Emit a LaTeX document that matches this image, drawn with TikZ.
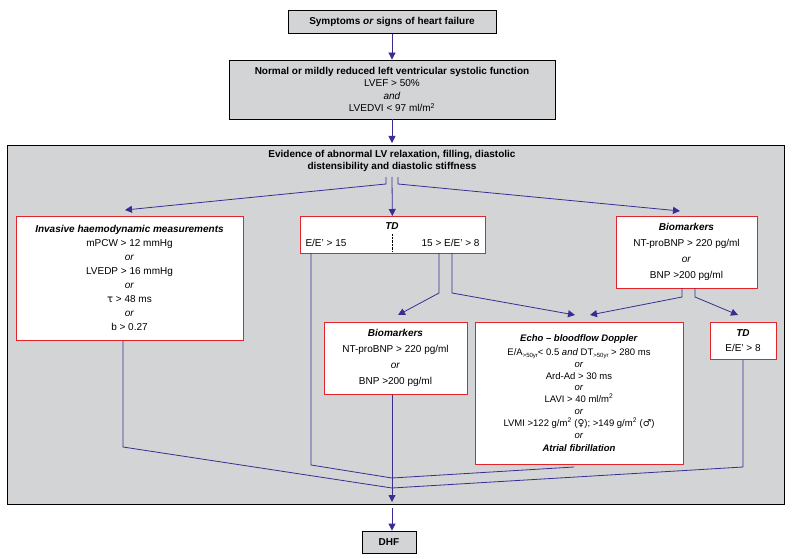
\documentclass[tikz,border=0pt]{standalone}
\usepackage{fontspec}
\setmainfont{Liberation Sans}
\newfontfamily\symfont{DejaVu Sans}
\usetikzlibrary{arrows.meta, positioning}
\definecolor{flowblue}{HTML}{3B2C93}
\definecolor{boxred}{HTML}{E3242B}
\definecolor{panelgray}{HTML}{D3D4D6}
\tikzset{
  gbox/.style={draw=black, fill=panelgray, thick, inner sep=2pt, align=center},
  rbox/.style={draw=boxred, fill=white, thick, inner sep=2pt, align=center, anchor=north},
  flow/.style={draw=flowblue, thick, -{Triangle[length=7pt, width=7pt]}},
  link/.style={draw=flowblue, thick},
  txt/.style={font=\fontsize{10}{12}\selectfont},
}
\newcommand{\hd}[1]{\textbf{\textit{#1}}}
\newcommand{\sub}[1]{\raisebox{-2pt}{\fontsize{6}{6}\selectfont #1}}
\begin{document}
\begin{tikzpicture}[x=1pt, y=-1pt, txt]
\useasboundingbox (0,0) rectangle (792,559);
% grey panel
\node[draw=black, thick, fill=panelgray, minimum width=777pt, minimum height=359pt, anchor=north west] (panel) at (7,145) {};
\node[font=\fontsize{10}{12}\selectfont\bfseries, align=center] (evid) at (392,161)
  {Evidence of abnormal LV relaxation, filling, diastolic\\distensibility and diastolic stiffness};

% top boxes
\node[gbox, minimum width=208pt, minimum height=23pt, font=\fontsize{10}{11}\selectfont\bfseries] (sympt) at (392,22)
  {Symptoms \textit{or} signs of heart failure};
\node[gbox, minimum width=326pt, minimum height=59pt, font=\fontsize{10}{12.5}\selectfont] (normal) at (392,89.5)
  {\textbf{Normal or mildly reduced left ventricular systolic function}\\LVEF > 50\%\\\textit{and}\\LVEDVI < 97 ml/m\textsuperscript{2}};

% first row
\node[rbox, minimum width=227pt, minimum height=124pt, font=\fontsize{10}{11.5}\selectfont] (inv) at (129.5,216)
  {\hd{Invasive haemodynamic measurements}\\[2.5pt]mPCW > 12 mmHg\\[2.5pt]\textit{or}\\[2.5pt]LVEDP > 16 mmHg\\[2.5pt]\textit{or}\\[2.5pt]{\symfont τ} > 48 ms\\[2.5pt]\textit{or}\\[2.5pt]b > 0.27};
\node[rbox, minimum width=185pt, minimum height=37pt] (td) at (392.5,216) {};
\node[font=\fontsize{10}{11}\selectfont\bfseries\itshape] (tdhead) at (392,226) {TD};
\node[anchor=west] (tdleft) at (302,243) {E/E' > 15};
\node[anchor=east] (tdright) at (483,243) {15 > E/E' > 8};
\draw[densely dotted] (392,234) coordinate (dota) -- (392,251) coordinate (dotb);
\node[rbox, minimum width=141pt, minimum height=72pt] (bio1) at (686.5,216)
  {\hd{Biomarkers}\\[4pt]NT-proBNP > 220 pg/ml\\[4pt]\textit{or}\\[4pt]BNP >200 pg/ml};

% second row
\node[rbox, minimum width=143pt, minimum height=72pt] (bio2) at (395.5,322)
  {\hd{Biomarkers}\\[4pt]NT-proBNP > 220 pg/ml\\[4pt]\textit{or}\\[4pt]BNP >200 pg/ml};
\node[rbox, minimum width=208pt, minimum height=142pt, font=\fontsize{9.5}{11.8}\selectfont] (echo) at (579,322)
  {\hd{Echo -- bloodflow Doppler}\\[2pt]E/A\sub{>50yr}< 0.5 \textit{and} DT\sub{>50yr} > 280 ms\\\textit{or}\\Ard-Ad > 30 ms\\\textit{or}\\LAVI > 40 ml/m\textsuperscript{2}\\\textit{or}\\LVMI >122 g/m\textsuperscript{2} ({\symfont ♀}); >149 g/m\textsuperscript{2} ({\symfont ♂})\\\textit{or}\\[2pt]\hd{Atrial fibrillation}};
\node[rbox, minimum width=66pt, minimum height=37pt] (td2) at (743,322)
  {\hd{TD}\\[3pt]E/E' > 8};

% bottom
\node[gbox, minimum width=54pt, minimum height=22pt, font=\fontsize{10}{11}\selectfont\bfseries] (dhf) at (389,542) {DHF};
\coordinate (j1) at (392,478);
\coordinate (j2) at (392,488);
\coordinate (pbot) at (392,502);

% connectors
\draw[flow] (sympt) -- (normal);
\draw[flow] (normal) -- (392,143);
\draw[flow] (386,177) -- (386,184) -- (125,210);
\draw[flow] (392,177) -- (td);
\draw[flow] (398,177) -- (398,184) -- (680,211);
\draw[flow] (439,253) -- (439,293) -- (398,315);
\draw[flow] (452,253) -- (452,293) -- (575,315);
\draw[flow] (682,288) -- (682,297) -- (590,315);
\draw[flow] (695,288) -- (695,297) -- (738,315);
\draw[link] ([xshift=-6.5pt]inv.south) -- (123,447) -- (j2);
\draw[link] (311,253) -- (311,465) -- (j1);
\draw[link] (574,467) -- (j1);
\draw[link] (td2.south) -- (743,467) -- (j2);
\draw[flow] ([xshift=-3.5pt]bio2.south) -- (pbot);
\draw[flow] (392,508) -- ([xshift=3pt]dhf.north);
\end{tikzpicture}
\end{document}
